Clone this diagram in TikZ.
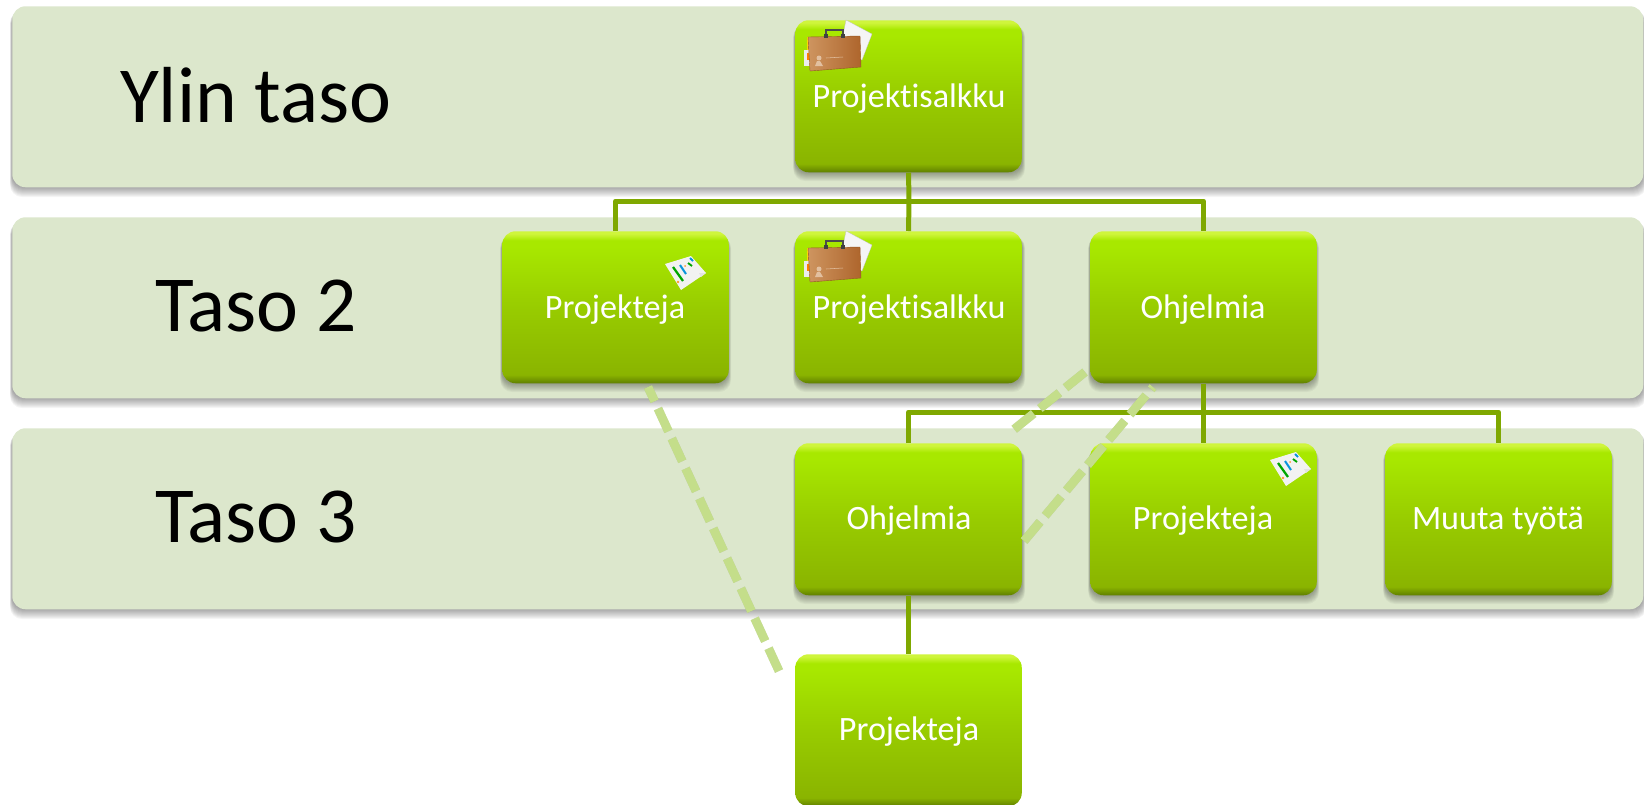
\documentclass[tikz,border=0pt]{standalone}
\usepackage{fontspec}
\setmainfont{Carlito}[Ligatures=NoCommon]
\usetikzlibrary{shadings,fadings}
\definecolor{bandc}{HTML}{DCE7CC}
\definecolor{linec}{HTML}{7FA800}
\definecolor{dashc}{HTML}{C4DE8A}
\definecolor{boxd}{HTML}{5F7F00}
\definecolor{boxe}{HTML}{749800}
\definecolor{boxa}{HTML}{8AB400}
\definecolor{boxb}{HTML}{98CC00}
\definecolor{boxc}{HTML}{A8E800}
\definecolor{boxt}{HTML}{CFF53C}
\definecolor{caseL}{HTML}{CE9560}
\definecolor{caseR}{HTML}{AE652C}
\pgfdeclareverticalshading{boxshade}{100bp}{
  color(0bp)=(boxd);
  color(25bp)=(boxd);
  color(26.3bp)=(boxe);
  color(27.8bp)=(boxa);
  color(50bp)=(boxb);
  color(70bp)=(boxc);
  color(72bp)=(boxc);
  color(74.2bp)=(boxt);
  color(100bp)=(boxt)}
\tikzset{
  x=0.75pt,y=-0.75pt,
  band/.style={fill=bandc,rounded corners=10pt,minimum width=1631*0.75pt,minimum height=181*0.75pt,inner sep=0pt,anchor=north west},
  bandlabel/.style={font=\fontsize{59.6}{66}\selectfont,text=black},
  item/.style={shading=boxshade,rounded corners=10pt,minimum width=226.5*0.75pt,minimum height=152*0.75pt,inner sep=0pt,anchor=north west},
  itemtext/.style={text=white,font=\fontsize{25.6}{30}\selectfont},
  conn/.style={draw=linec,line width=3.75pt,line join=round},
  dashline/.style={draw=dashc,line width=6.6pt,dash pattern=on 18.75pt off 6pt},
  dashshadow/.style={draw=black,opacity=0.13,line width=6.6pt,dash pattern=on 18.75pt off 6pt},
}
\newcommand{\softshadow}[5]{%
  \foreach \k in {1,...,#5}{
    \fill[black,opacity=0.04,rounded corners=9pt] (#1-\k/5,#2+5) rectangle (#3+\k/3,#4+\k);
  }}
\newcommand{\briefcase}[2]{%
  \begin{scope}[shift={(#1,#2)}]
    \fill[white!92!gray,draw=gray!50,line width=.2pt] (42,0) -- (68,14) -- (58,40) -- (36,30) -- cycle;
    \fill[yellow!75!orange] (3,17) rectangle (7,43);
    \fill[white!85!gray] (0,30) rectangle (6,46);
    \fill[orange] (3,33) rectangle (6,40);
    \shade[left color=caseL,right color=caseR,draw=caseR!85!black,line width=.3pt] (4,17) -- (56,16) -- (57,47) -- (6,51) -- cycle;
    \draw[black!70,line width=1.6pt] (22,16) -- (22,10) -- (39,10) -- (39,16);
    \fill[black!75] (20,14) rectangle (24,18);
    \fill[black!75] (37,14) rectangle (41,18);
    \fill[caseL!60!white] (11,46) -- (13,41) -- (16,41) -- (19,46) -- cycle;
    \fill[caseL!60!white] (15,38) circle[radius=2.5];
    \draw[caseL!60!white,line width=.4pt] (22,38) -- (39,37);
  \end{scope}}
\newcommand{\ganttsheet}[2]{%
  \begin{scope}[shift={(#1,#2)}]
    \fill[white!90!gray] (0,8) -- (26,0) -- (41,17) -- (16,34) -- cycle;
    \fill[white!78!gray] (41,17) -- (34,17) -- (36,21) -- cycle;
    \draw[green!65!black,line width=1.7pt] (8,11) -- (18,25);
    \draw[cyan!80!blue,line width=1.5pt] (15,9) -- (21,18);
    \draw[green!65!black,line width=1.4pt] (23,7) -- (27,10);
    \draw[cyan!80!blue,line width=1.4pt] (25,2) -- (28,5);
    \fill[orange!80] (13,26) circle[radius=1.3];
    \fill[orange!80] (20,10) circle[radius=1];
  \end{scope}}
\begin{document}
\begin{tikzpicture}
\useasboundingbox (0,0) rectangle (1644,804);
\clip (0,0) rectangle (1644,804);
% bands
\softshadow{12}{6}{1643}{187}{10}
\softshadow{12}{217}{1643}{398}{10}
\softshadow{12}{428}{1643}{609}{10}
\node[band] (b1) at (12,6) {};
\node[band] (b2) at (12,217) {};
\node[band] (b3) at (12,428) {};
\node[bandlabel] (l1) at (256,95) {Ylin taso};
\node[bandlabel] (l2) at (256,306) {Taso 2};
\node[bandlabel] (l3) at (256,517) {Taso 3};
% nodes' shadows
\softshadow{795}{20}{1022}{172}{9}
\softshadow{502}{231}{728}{383}{9}
\softshadow{795}{231}{1022}{383}{9}
\softshadow{1090}{231}{1316}{383}{9}
\softshadow{795}{443}{1022}{595}{9}
\softshadow{1090}{443}{1316}{595}{9}
\softshadow{1385}{443}{1611}{595}{9}
% boxes
\node[item] (top) at (795,20) {};
\node[item] (p2) at (502,231) {};
\node[item] (s2) at (795,231) {};
\node[item] (o2) at (1090,231) {};
\node[item] (o3) at (795,443) {};
\node[item] (p3) at (1090,443) {};
\node[item] (m3) at (1385,443) {};
\node[item] (p4) at (795,654) {};
\node[itemtext] (t1) at (909,99) {Projektisalkku};
\node[itemtext] (t2) at (615,310) {Projekteja};
\node[itemtext] (t3) at (909,310) {Projektisalkku};
\node[itemtext] (t4) at (1203,310) {Ohjelmia};
\node[itemtext] (t5) at (909,521) {Ohjelmia};
\node[itemtext] (t6) at (1203,521) {Projekteja};
\node[itemtext] (t7) at (1498,521) {Muuta työtä};
\node[itemtext] (t8) at (909,732) {Projekteja};
% connectors
\coordinate (hub1) at (909,201);
\coordinate (hub2) at (1204,412);
\draw[conn] (top.south) -- (hub1) -- (s2.north);
\draw[conn] (p2.north) |- (hub1) -| (o2.north);
\draw[conn] (o2.south) -- (p3.north);
\draw[conn] (o3.north) |- (hub2) -| (m3.north);
\draw[conn] (o3.south) -- (p4.north);
% dashed relations
\coordinate (d1a) at (779,671);
\coordinate (d1b) at (648,387);
\coordinate (d2a) at (1085,372);
\coordinate (d2b) at (1012,431);
\coordinate (d3a) at (1024,541);
\coordinate (d3b) at (1153,387);
\begin{scope}[shift={(-2,4)}]
\draw[dashshadow] (d1a) -- (d1b);
\draw[dashshadow] (d2a) -- (d2b);
\draw[dashshadow] (d3a) -- (d3b);
\end{scope}
\draw[dashline] (d1a) -- (d1b);
\draw[dashline] (d2a) -- (d2b);
\draw[dashline] (d3a) -- (d3b);
% icons
\briefcase{804}{20}
\briefcase{804}{231}
\ganttsheet{665}{256}
\ganttsheet{1270}{452}
\end{tikzpicture}
\end{document}
